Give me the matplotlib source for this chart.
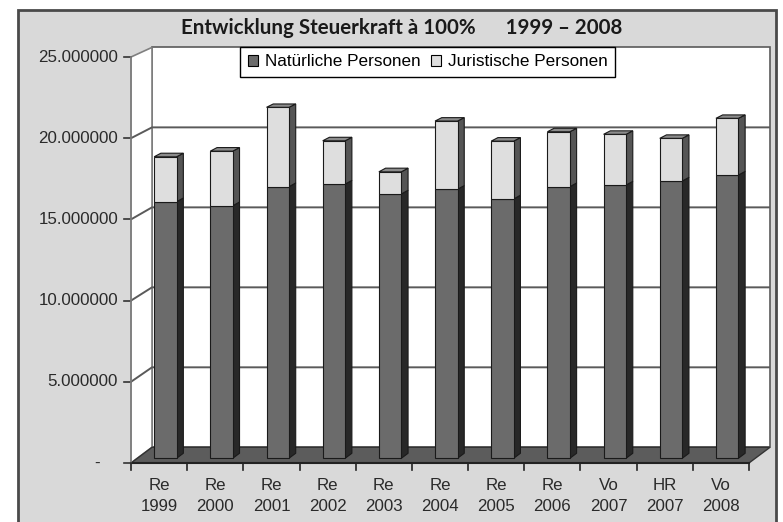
import matplotlib
matplotlib.use("Agg")
import matplotlib.pyplot as plt
from matplotlib.patches import Polygon, Rectangle, Patch

# ---------------- data ----------------
categories = ["Re\n1999", "Re\n2000", "Re\n2001", "Re\n2002", "Re\n2003", "Re\n2004",
              "Re\n2005", "Re\n2006", "Vo\n2007", "HR\n2007", "Vo\n2008"]
natuerliche = [15.87e6, 15.62e6, 16.80e6, 16.96e6, 16.35e6, 16.64e6,
               16.04e6, 16.80e6, 16.90e6, 17.15e6, 17.52e6]
juristische = [2.78e6, 3.38e6, 4.91e6, 2.68e6, 1.37e6, 4.22e6,
               3.58e6, 3.40e6, 3.14e6, 2.64e6, 3.51e6]
series_names = ["Natürliche Personen", "Juristische Personen"]
y_ticks = [0, 5e6, 10e6, 15e6, 20e6, 25e6]
y_tick_labels = ["-", "5.000000", "10.000000", "15.000000", "20.000000", "25.000000"]
title = "Entwicklung Steuerkraft à 100%      1999 – 2008"

# ---------------- geometry / style ----------------
W, H, DPI = 783, 522, 100
ORIG_X, ORIG_Y = 131.0, 463.0          # pixel position of front axis origin
PX_CAT = 56.18                          # pixels per category
PX_VAL = 16.24 / 1e6                    # pixels per unit value
DX = 21.0 / PX_CAT                      # full depth offset, x (categories)
DY = 15.7 / PX_VAL                      # full depth offset, y (value units)
SHR = 0.015                             # slight perspective shrink of back plane
YMAX = y_ticks[-1]
N = len(categories)

FONT = "Liberation Sans"
c_dark_front, c_dark_side = "#6b6b6b", "#282828"
c_light_front, c_light_side = "#dedede", "#555555"
c_top = "#8c8c8c"
c_edge = "#1a1a1a"
c_grid = "#5a5a5a"
c_text = "#2a2a2a"


def P(x, v, d):
    return (x + d * DX, v * (1 - d * SHR) + d * DY)


fig = plt.figure(figsize=(W / DPI, H / DPI), dpi=DPI)
fig.patch.set_facecolor("white")
ax = fig.add_axes([0, 0, 1, 1])
ax.set_xlim(-ORIG_X / PX_CAT, (W - ORIG_X) / PX_CAT)
ax.set_ylim(-(H - ORIG_Y) / PX_VAL, ORIG_Y / PX_VAL)
ax.axis("off")

# chart area frame
ax.add_patch(Rectangle((18 / W, -0.05), (776 - 18) / W, 1 - 10 / H + 0.05,
                       transform=ax.transAxes, fc="#d9d9d9", ec="#4a4a4a",
                       lw=2, zorder=0))

# back wall
ax.add_patch(Polygon([P(0, 0, 1), P(N, 0, 1), P(N, YMAX, 1), P(0, YMAX, 1)],
                     closed=True, fc="white", ec=c_grid, lw=1.2, zorder=1))
# left wall
ax.add_patch(Polygon([P(0, 0, 0), P(0, 0, 1), P(0, YMAX, 1), P(0, YMAX, 0)],
                     closed=True, fc="white", ec="#808080", lw=1.2, zorder=1))

# gridlines
for v in y_ticks[1:-1]:
    xs, ys = zip(P(0, v, 0), P(0, v, 1), P(N, v, 1))
    ax.plot(xs, ys, color=c_grid, lw=1.4, zorder=2, solid_capstyle="butt")

# floor
ax.add_patch(Polygon([P(0, 0, 0), P(N, 0, 0), P(N, 0, 1), P(0, 0, 1)],
                     closed=True, fc="#5c5c5c", ec="#333333", lw=1, zorder=3))
xs, ys = zip(P(0, 0, 0), P(N, 0, 0))
ax.plot(xs, ys, color="#222222", lw=1.5, zorder=4)

# y-axis ticks & labels
tick_len_x = 7 / PX_CAT
for v, lab in zip(y_ticks, y_tick_labels):
    ax.plot([-tick_len_x, 0], [v, v], color="#333333", lw=1.2, zorder=4)
    if v == 0:
        ax.text(-34 / PX_CAT, v, lab, ha="center", va="center",
                fontsize=12.2, family=FONT, color=c_text)
    else:
        ax.text(-13 / PX_CAT, v, lab, ha="right", va="center",
                fontsize=12.2, family=FONT, color=c_text)
ax.plot([0, 0], [0, YMAX], color="#808080", lw=1.2, zorder=4)

# x-axis ticks & labels
tick_len_y = 7 / PX_VAL
for i in range(N + 1):
    ax.plot([i, i], [0, -tick_len_y], color="#222222", lw=1.2, zorder=4)
for i, lab in enumerate(categories):
    ax.text(i + 0.5, -33 / PX_VAL, lab, ha="center", va="center",
            fontsize=12.2, family=FONT, color=c_text, linespacing=1.5)

# bars
BW = 0.40
D0, D1 = 0.30, 0.62
for i in range(N):
    x0, x1 = i + 0.5 - BW / 2, i + 0.5 + BW / 2
    segs = [(0, natuerliche[i], c_dark_front, c_dark_side),
            (natuerliche[i], natuerliche[i] + juristische[i], c_light_front, c_light_side)]
    for k, (b, t, cf, cs) in enumerate(segs):
        ax.add_patch(Polygon([P(x1, b, D0), P(x1, b, D1), P(x1, t, D1), P(x1, t, D0)],
                             closed=True, fc=cs, ec=c_edge, lw=0.8, zorder=5))
        ax.add_patch(Polygon([P(x0, b, D0), P(x1, b, D0), P(x1, t, D0), P(x0, t, D0)],
                             closed=True, fc=cf, ec=c_edge, lw=0.8, zorder=6))
        if k == len(segs) - 1:
            ax.add_patch(Polygon([P(x0, t, D0), P(x1, t, D0), P(x1, t, D1), P(x0, t, D1)],
                                 closed=True, fc=c_top, ec=c_edge, lw=0.8, zorder=6))

# title
fig.text(402 / W, 1 - 28 / H, title, ha="center", va="center",
         fontsize=14.8, fontweight="bold", family="Lato", color="#1a1a1a")

# legend
handles = [Patch(fc=c_dark_front, ec="black", lw=0.8, label=series_names[0]),
           Patch(fc=c_light_front, ec="black", lw=0.8, label=series_names[1])]
leg = ax.legend(handles=handles, ncol=2, loc="center",
                bbox_to_anchor=(427.5 / W, 1 - 62 / H), bbox_transform=fig.transFigure,
                frameon=True, fancybox=False, framealpha=1, edgecolor="black",
                handlelength=0.6, handleheight=0.6, handletextpad=0.4,
                columnspacing=0.6, borderpad=0.45, borderaxespad=0,
                prop={"family": FONT, "size": 12.3})
leg.get_frame().set_linewidth(1.0)
leg.set_zorder(10)

fig.savefig("out.png", dpi=DPI)
